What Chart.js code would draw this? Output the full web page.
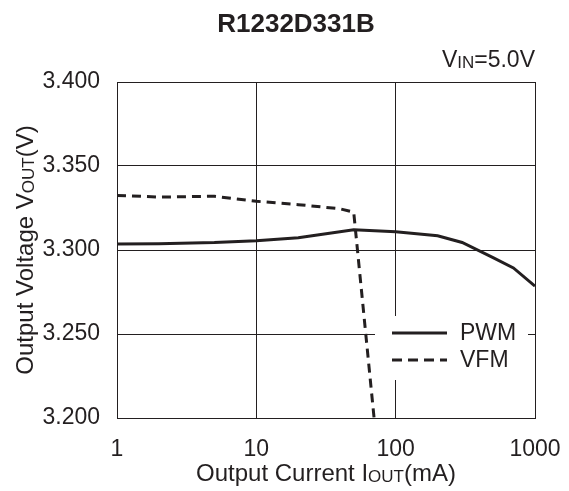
<!DOCTYPE html>
<html>
<head>
<meta charset="utf-8">
<script src="https://cdn.jsdelivr.net/npm/chart.js@4.4.1/dist/chart.umd.min.js"></script>
<style>
  html, body { margin: 0; padding: 0; background: #fff; }
  #wrap { width: 569px; height: 491px; }
</style>
</head>
<body>
<div id="wrap"><canvas id="c" width="569" height="491"></canvas></div>
<script>
// data
const pwmCurrent = [1, 2, 5, 10, 20, 50, 100, 200, 300, 500, 700, 1000];
const pwmVout = [3.3035, 3.3037, 3.3044, 3.3055, 3.3073, 3.3120, 3.3108, 3.3085, 3.3045, 3.2955, 3.2893, 3.2785];
const vfmCurrent = [1, 2, 5, 10, 20, 40, 50, 70];
const vfmVout = [3.3325, 3.3315, 3.3320, 3.3290, 3.3270, 3.3245, 3.3225, 3.2000];
const xTicks = [1, 10, 100, 1000];
const yMin = 3.2, yMax = 3.4, yStep = 0.05;

const titleText = 'R1232D331B';
const condParts = [{ t: 'V' }, { t: 'IN', sub: true }, { t: '=5.0V' }];
const xTitleParts = [{ t: 'Output Current I' }, { t: 'OUT', sub: true }, { t: '(mA)' }];
const yTitleParts = [{ t: 'Output Voltage V' }, { t: 'OUT', sub: true }, { t: '(V)' }];

const INK = '#231f20';
const FONT = '"Liberation Sans", Arial, sans-serif';

// draws text with small-caps subscripts, anchored by align at (0,0) of current transform
function richText(ctx, parts, size, align) {
  const subSize = Math.round(size * 0.72);
  let w = 0;
  parts.forEach(p => {
    ctx.font = (p.sub ? subSize : size) + 'px ' + FONT;
    p.w = ctx.measureText(p.t).width;
    w += p.w;
  });
  let x = align === 'right' ? -w : align === 'center' ? -w / 2 : 0;
  ctx.textAlign = 'left';
  ctx.textBaseline = 'alphabetic';
  parts.forEach(p => {
    ctx.font = (p.sub ? subSize : size) + 'px ' + FONT;
    ctx.fillText(p.t, x, p.sub ? 1 : 0);
    x += p.w;
  });
}

const labelsPlugin = {
  id: 'labels',
  afterDraw(chart) {
    const { ctx, chartArea: a } = chart;
    ctx.save();
    ctx.fillStyle = INK;
    // title
    ctx.font = 'bold 26px ' + FONT;
    ctx.textAlign = 'center';
    ctx.textBaseline = 'alphabetic';
    ctx.fillText(titleText, 296, 32);
    // condition
    ctx.save(); ctx.translate(a.right, 67); richText(ctx, condParts, 23, 'right'); ctx.restore();
    // x title
    ctx.save(); ctx.translate((a.left + a.right) / 2, 481); richText(ctx, xTitleParts, 24, 'center'); ctx.restore();
    // y title
    ctx.save(); ctx.translate(33, (a.top + a.bottom) / 2); ctx.rotate(-Math.PI / 2);
    richText(ctx, yTitleParts, 24, 'center'); ctx.restore();
    ctx.restore();
  }
};

// legend drawn inside the plot, lower right
const boxLegend = {
  id: 'boxLegend',
  afterDatasetsDraw(chart) {
    const { ctx, chartArea: a } = chart;
    const bx = a.right - 160, by = a.bottom - 102, bw = 153, bh = 64;
    ctx.save();
    ctx.fillStyle = '#fff';
    ctx.fillRect(bx, by, bw, bh);
    chart.data.datasets.forEach((ds, i) => {
      const y = by + 17 + i * 27;
      ctx.strokeStyle = ds.borderColor;
      ctx.lineWidth = ds.borderWidth;
      ctx.setLineDash(ds.borderDash ? [10, 6] : []);
      ctx.beginPath();
      ctx.moveTo(bx + 17, y);
      ctx.lineTo(bx + 72, y);
      ctx.stroke();
      ctx.setLineDash([]);
      ctx.fillStyle = INK;
      ctx.font = '23px ' + FONT;
      ctx.textAlign = 'left';
      ctx.textBaseline = 'middle';
      ctx.fillText(ds.label, bx + 85, y + 1);
    });
    ctx.restore();
  }
};

new Chart(document.getElementById('c'), {
  type: 'line',
  data: {
    datasets: [
      { label: 'PWM', data: pwmCurrent.map((x, i) => ({ x, y: pwmVout[i] })),
        borderColor: INK, borderWidth: 3, pointRadius: 0, tension: 0 },
      { label: 'VFM', data: vfmCurrent.map((x, i) => ({ x, y: vfmVout[i] })),
        borderColor: INK, borderWidth: 3, borderDash: [9, 6], pointRadius: 0, tension: 0 }
    ]
  },
  options: {
    responsive: false,
    animation: false,
    layout: { padding: { top: 82, right: 34, left: 0, bottom: 0 } },
    plugins: { legend: { display: false }, title: { display: false }, tooltip: { enabled: false } },
    scales: {
      x: {
        type: 'logarithmic', min: 1, max: 1000,
        afterBuildTicks: s => { s.ticks = xTicks.map(v => ({ value: v })); },
        afterFit: s => { s.height = 73; s.paddingLeft = 0; s.paddingRight = 0; },
        ticks: { color: INK, font: { family: FONT, size: 23 }, padding: 18, maxRotation: 0,
                 callback: v => String(v) },
        grid: { color: INK, lineWidth: 1, drawTicks: false },
        border: { color: INK, width: 1 }
      },
      y: {
        min: yMin, max: yMax,
        afterFit: s => { s.width = 117; s.paddingTop = 0; s.paddingBottom = 0; },
        ticks: { stepSize: yStep, color: INK, font: { family: FONT, size: 23 }, padding: 17,
                 callback: v => v.toFixed(3) },
        grid: { color: INK, lineWidth: 1, drawTicks: false },
        border: { color: INK, width: 1 }
      }
    }
  },
  plugins: [labelsPlugin, boxLegend]
});
</script>
</body>
</html>
